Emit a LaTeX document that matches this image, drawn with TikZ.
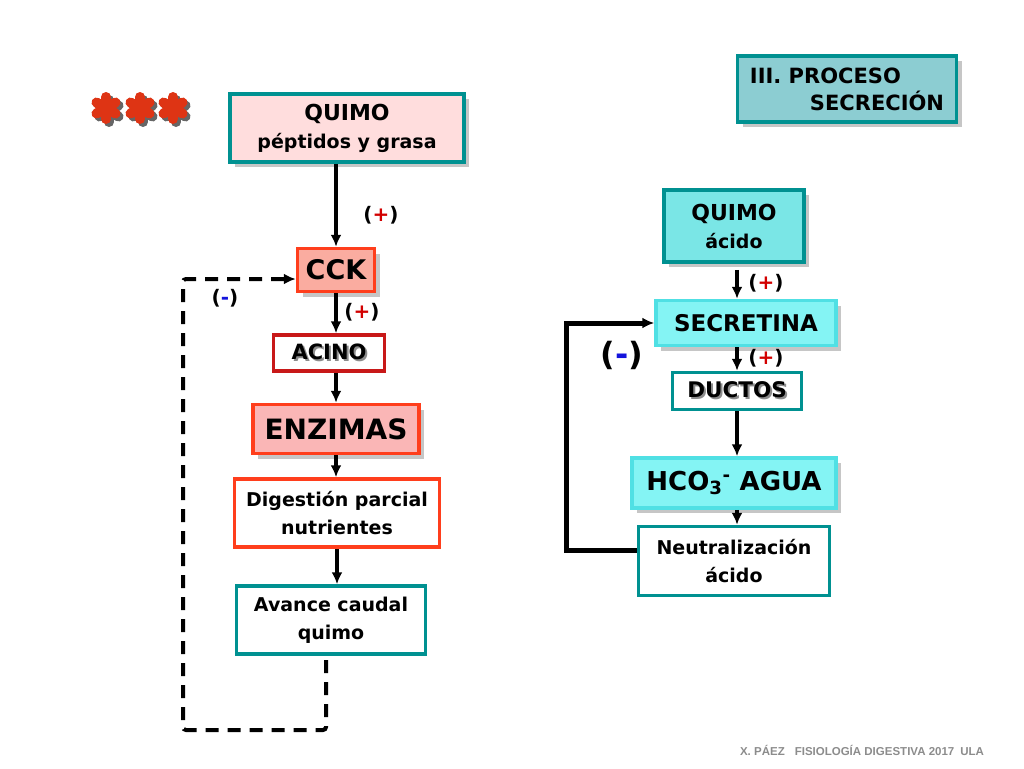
\documentclass[tikz,border=0pt]{standalone}
\usepackage{fontspec}
\setmainfont{DejaVu Sans}
\newfontfamily\footfont{Liberation Sans}
\usetikzlibrary{arrows.meta,shadows}

\definecolor{tealline}{RGB}{0,145,145}
\definecolor{pinkfill}{RGB}{255,221,221}
\definecolor{cckfill}{RGB}{250,172,160}
\definecolor{enzfill}{RGB}{250,182,182}
\definecolor{redline}{RGB}{255,62,28}
\definecolor{acinored}{RGB}{200,24,24}
\definecolor{cyanfill}{RGB}{122,230,230}
\definecolor{lightcyan}{RGB}{132,244,244}
\definecolor{cyanline}{RGB}{80,224,228}
\definecolor{procfill}{RGB}{140,205,210}
\definecolor{starred}{RGB}{222,52,20}
\definecolor{plusred}{RGB}{210,0,0}
\definecolor{minusblue}{RGB}{20,20,220}
\definecolor{footgray}{RGB}{140,140,140}

\newcommand{\posmark}{(\textcolor{plusred}{+})}
\newcommand{\negmark}{(\textcolor{minusblue}{-})}
\newcommand{\bigcaps}[1]{{\fontsize{22}{28}\selectfont #1}}
\newcommand{\shadowword}[1]{\makebox[0pt][l]{\hspace{2pt}\raisebox{-2pt}{\textcolor{black!45}{#1}}}#1}

\begin{document}
\begin{tikzpicture}[x=1pt, y=-1pt,
        box/.style = {draw, line width=3.5pt, align=center, inner sep=0pt,
                      font=\bfseries\fontsize{19}{28}\selectfont},
        shade/.style = {drop shadow={shadow xshift=5pt, shadow yshift=-5pt, opacity=0.45}},
        arr/.style = {line width=3.2pt, -{Latex[length=12pt, width=11pt]}},
        sign/.style = {font=\bfseries\fontsize{20}{22}\selectfont}]

    % Frame
    \useasboundingbox (0,0) rectangle (1024,768);

    % Stars
    \foreach \sx in {106,140,173} {
        \foreach \ang in {90,30,150}
            \draw[line width=10pt, line cap=round, black!60] (\sx+3,111) +(\ang:11) -- +(\ang+180:11);
    }
    \foreach \sx in {106,140,173} {
        \foreach \ang in {90,30,150}
            \draw[line width=10pt, line cap=round, starred] (\sx,108) +(\ang:11) -- +(\ang+180:11);
    }

    % Title box
    \node[box, shade, fill=procfill, draw=tealline, minimum width=219pt, minimum height=66pt,
          align=left, font=\bfseries\fontsize{21}{27}\selectfont] (proc) at (847,89)
          {III. PROCESO\\\hspace*{60pt}SECRECIÓN};

    % Left column
    \node[box, shade, fill=pinkfill, draw=tealline, minimum width=234pt, minimum height=68pt]
        (quimoA) at (347,128) {\bigcaps{QUIMO}\\péptidos y grasa};
    \node[box, shade, fill=cckfill, draw=redline, minimum width=77pt, minimum height=43pt,
          font=\bfseries\fontsize{27}{30}\selectfont] (cck) at (336,270) {CCK};
    \node[box, fill=white, draw=acinored, minimum width=111pt, minimum height=36pt,
          font=\bfseries\fontsize{21}{24}\selectfont] (acino) at (329,353) {\shadowword{ACINO}};
    \node[box, shade, fill=enzfill, draw=redline, minimum width=166pt, minimum height=49pt,
          font=\bfseries\fontsize{28}{30}\selectfont] (enz) at (336,429) {ENZIMAS};
    \node[box, fill=white, draw=redline, minimum width=205pt, minimum height=68pt]
        (dig) at (337,513) {Digestión parcial\\nutrientes};
    \node[box, fill=white, draw=tealline, minimum width=189pt, minimum height=68pt]
        (avan) at (331,620) {Avance caudal\\quimo};

    % Left arrows
    \draw[arr] (quimoA.south -| cck.north) -- (cck.north);
    \draw[arr] (cck.south) -- (cck.south |- acino.north);
    \draw[arr] (acino.south -| enz.north) -- (enz.north);
    \draw[arr] (enz.south) -- (enz.south |- dig.north);
    \draw[arr] (dig.south) -- (dig.south |- avan.north);
    \node[sign] (pA) at (381,215) {\posmark};
    \node[sign] (pB) at (362,312) {\posmark};

    % Dashed feedback
    \coordinate (dT) at (326,660);
    \coordinate (dA) at (326,730);
    \coordinate (dB) at (183,730);
    \draw[line width=4pt, dash pattern=on 13pt off 9pt, rounded corners=3pt,
          -{Latex[length=12pt, width=11pt]}] (dT) -- (dA) -- (dB) |- ([yshift=-9pt]cck.west);
    \node[sign] (mA) at (225,298) {\negmark};

    % Right column
    \node[box, shade, fill=cyanfill, draw=tealline, minimum width=140pt, minimum height=72pt]
        (quimoB) at (734,226) {\bigcaps{QUIMO}\\ácido};
    \node[box, shade, fill=lightcyan, draw=cyanline, minimum width=180pt, minimum height=45pt,
          font=\bfseries\fontsize{23}{26}\selectfont] (secr) at (746,323) {SECRETINA};
    \node[box, fill=white, draw=tealline, minimum width=129pt, minimum height=37pt,
          font=\bfseries\fontsize{21.5}{24}\selectfont] (duct) at (737,391) {\shadowword{DUCTOS}};
    \node[box, shade, fill=lightcyan, draw=cyanline, minimum width=204pt, minimum height=50pt,
          font=\bfseries\fontsize{26}{30}\selectfont] (hco) at (734,483)
          {HCO\textsubscript{3}\textsuperscript{-} AGUA};
    \node[box, fill=white, draw=tealline, minimum width=191pt, minimum height=69pt]
        (neut) at (734,561) {Neutralización\\ácido};

    % Right arrows
    \draw[arr, shorten <=6pt] (quimoB.south -| duct.north) -- (secr.north -| duct.north);
    \draw[arr] (secr.south -| duct.north) -- (duct.north);
    \draw[arr] (duct.south) -- (duct.south |- hco.north);
    \draw[arr] (hco.south -| duct.south) -- (neut.north -| duct.south);
    \node[sign] (pC) at (766,283) {\posmark};
    \node[sign] (pD) at (766,358) {\posmark};

    % Solid feedback
    \draw[line width=5pt, -{Latex[length=12pt, width=11pt]}] ([yshift=11pt]neut.west) -- ++(-70,0) |- (secr.west);
    \node[sign, font=\bfseries\fontsize{32}{34}\selectfont] (mB) at (622,355) {\negmark};

    % Footer
    \node[font=\footfont\bfseries\fontsize{11.5}{13}\selectfont, text=footgray] (foot) at (862,750)
        {X. PÁEZ\hspace{10pt}FISIOLOGÍA DIGESTIVA 2017\hspace{6pt}ULA};

\end{tikzpicture}
\end{document}
